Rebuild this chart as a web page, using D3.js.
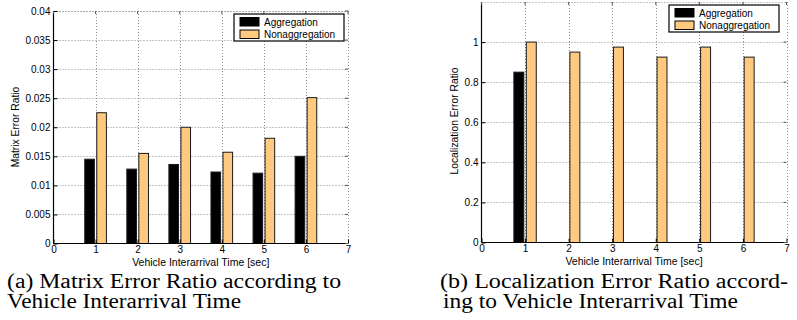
<!DOCTYPE html>
<html>
<head>
<meta charset="utf-8">
<script src="https://cdn.jsdelivr.net/npm/d3@7"></script>
<style>
  body { margin: 0; background: #fff; }
  svg { display: block; }
  .sans { font-family: "Liberation Sans", Arial, Helvetica, sans-serif; }
  .caption { font-family: "Liberation Serif", "Times New Roman", serif; font-size: 20.5px; fill: #000; }
</style>
</head>
<body>
<div id="chart"></div>
<script>

// data
var intervals = [1, 2, 3, 4, 5, 6];
var seriesNames = ["Aggregation", "Nonaggregation"];
var seriesColors = ["#000000", "#ffc97f"];

var matrixAgg = [0.0145, 0.0128, 0.0136, 0.0123, 0.0121, 0.0150];
var matrixNonagg = [0.0225, 0.0155, 0.0200, 0.0157, 0.0181, 0.0251];

var locAgg = [0.85, 0, 0, 0, 0, 0];
var locNonagg = [1.0, 0.95, 0.975, 0.925, 0.975, 0.925];

var xTicks = [0, 1, 2, 3, 4, 5, 6, 7];
var matrixTicks = [0, 0.005, 0.01, 0.015, 0.02, 0.025, 0.03, 0.035, 0.04];
var locTicks = [0, 0.2, 0.4, 0.6, 0.8, 1];

var svg = d3.select("#chart").append("svg")
  .attr("width", 797)
  .attr("height", 320);

// draw one MATLAB style bar panel
drawPanel = (p) => {
  var g = svg.append("g").attr("class", "sans");

  var x = d3.scaleLinear().domain([0, 7]).range([p.left, p.right]);
  var y = d3.scaleLinear().domain(p.yDomain).range([p.bottom, p.top]);

  // inner offsets of the two bars inside a group (in x units)
  var inner = d3.scaleBand().domain(seriesNames).range([-0.2857, 0.2857])
    .paddingInner(0.2).paddingOuter(0.1);

  // grid, dotted
  var grid = g.append("g")
    .attr("stroke", "#8a8a8a")
    .attr("stroke-width", 1)
    .attr("stroke-dasharray", "1,2");
  grid.selectAll("line.gy").data(p.yTicks.slice(1)).enter().append("line")
    .attr("x1", p.left).attr("x2", p.right)
    .attr("y1", d => Math.round(y(d)) + 0.5).attr("y2", d => Math.round(y(d)) + 0.5);
  grid.selectAll("line.gx").data(xTicks.slice(1)).enter().append("line")
    .attr("x1", d => Math.round(x(d)) + 0.5).attr("x2", d => Math.round(x(d)) + 0.5)
    .attr("y1", p.top).attr("y2", p.bottom);
  grid.append("line")
    .attr("x1", p.left).attr("x2", p.right)
    .attr("y1", p.top + 0.5).attr("y2", p.top + 0.5);

  // bars
  var series = [p.agg, p.nonagg];
  series.forEach(function (vals, si) {
    g.append("g").selectAll("rect").data(vals).enter().append("rect")
      .attr("x", (d, i) => x(intervals[i] + inner(seriesNames[si])))
      .attr("width", x(inner.bandwidth()) - x(0))
      .attr("y", d => y(d))
      .attr("height", d => y(0) - y(d))
      .attr("fill", seriesColors[si])
      .attr("stroke", "#1a1a1a")
      .attr("stroke-width", 1);
  });

  // axes
  var yAxis = d3.axisLeft(y).tickValues(p.yTicks).tickSize(-4).tickPadding(3)
    .tickFormat(d3.format("~g"));
  var xAxis = d3.axisBottom(x).tickValues(xTicks).tickSize(-4).tickPadding(2)
    .tickFormat(d3.format("d"));

  var ya = g.append("g").attr("transform", "translate(" + p.left + ",0)").call(yAxis);
  var xa = g.append("g").attr("transform", "translate(0," + p.bottom + ")").call(xAxis);
  [ya, xa].forEach(function (a) {
    a.select(".domain").attr("stroke", "#000").attr("stroke-width", 1.2);
    a.selectAll(".tick line").attr("stroke", "#000");
    a.selectAll(".tick text").attr("font-size", "10px").attr("fill", "#000");
  });
  xa.select(".domain").attr("d", "M" + p.left + ",0H" + p.right);
  ya.select(".domain").attr("d", "M0," + p.bottom + "V" + p.top);

  // small ticks on the top and right edges
  var edge = g.append("g").attr("stroke", "#555").attr("stroke-width", 1);
  edge.selectAll("line.tt").data(xTicks).enter().append("line")
    .attr("x1", d => x(d)).attr("x2", d => x(d))
    .attr("y1", p.top).attr("y2", p.top + 3);
  edge.selectAll("line.rt").data(p.yTicks).enter().append("line")
    .attr("x1", p.right).attr("x2", p.right - 3)
    .attr("y1", d => y(d)).attr("y2", d => y(d));

  // labels
  g.append("text")
    .attr("x", (p.left + p.right) / 2)
    .attr("y", p.bottom + 22)
    .attr("text-anchor", "middle")
    .attr("font-size", "10.5px")
    .text("Vehicle Interarrival Time [sec]");

  g.append("text")
    .attr("transform", "translate(" + p.yLabelX + "," + p.yLabelY + ") rotate(-90)")
    .attr("text-anchor", "middle")
    .attr("font-size", "10.3px")
    .text(p.yLabel);

  // legend
  var lg = g.append("g").attr("transform", "translate(" + p.legX + "," + p.legY + ")");
  lg.append("rect")
    .attr("x", 0).attr("y", 0).attr("width", 110).attr("height", 27)
    .attr("fill", "#fff").attr("stroke", "#000").attr("stroke-width", 1.2);
  seriesNames.forEach(function (name, i) {
    lg.append("rect")
      .attr("x", 6).attr("y", 3.5 + i * 12.5).attr("width", 19).attr("height", 8.5)
      .attr("fill", seriesColors[i]).attr("stroke", "#000").attr("stroke-width", 1);
    lg.append("text")
      .attr("x", 30).attr("y", 11.5 + i * 12.5)
      .attr("font-size", "10px")
      .text(name);
  });

  // caption, two lines, stretched to the widths seen in the picture
  p.caption.forEach(function (line, i) {
    svg.append("text").attr("class", "caption")
      .attr("x", p.capX[i]).attr("y", 287.5 + i * 20)
      .attr("textLength", p.capW[i])
      .attr("lengthAdjust", "spacingAndGlyphs")
      .text(line);
  });
}

drawPanel({
  left: 53.5, right: 348, top: 11, bottom: 243.5,
  yDomain: [0, 0.04], yTicks: matrixTicks,
  agg: matrixAgg, nonagg: matrixNonagg,
  yLabel: "Matrix Error Ratio", yLabelX: 19, yLabelY: 127,
  legX: 234, legY: 14,
  capX: [7, 7], capW: [334, 234],
  caption: ["(a) Matrix Error Ratio according to", "Vehicle Interarrival Time"]
});

drawPanel({
  left: 481.5, right: 786.5, top: 2, bottom: 242.5,
  yDomain: [0, 1.2], yTicks: locTicks,
  agg: locAgg, nonagg: locNonagg,
  yLabel: "Localization Error Ratio", yLabelX: 458, yLabelY: 121,
  legX: 669, legY: 5,
  capX: [440, 443], capW: [348, 295],
  caption: ["(b) Localization Error Ratio accord-", "ing to Vehicle Interarrival Time"]
});

</script>
</body>
</html>
